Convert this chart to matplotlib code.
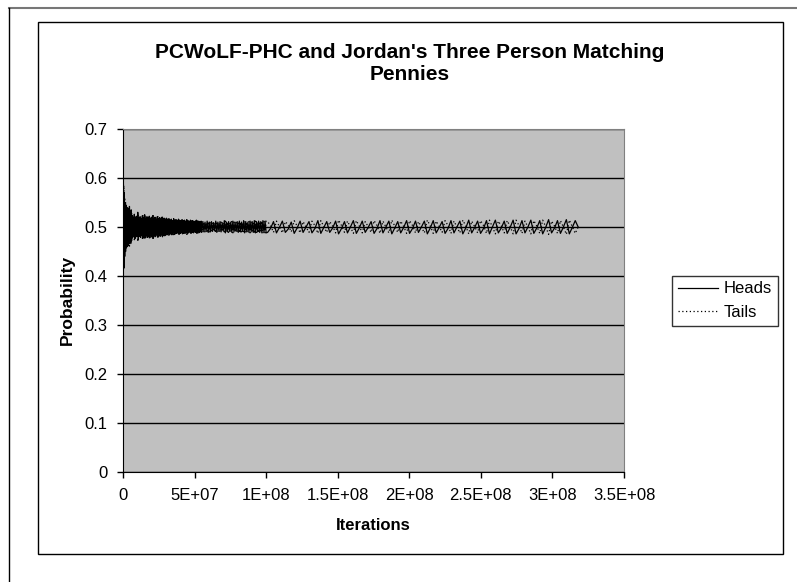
import numpy as np
import matplotlib
matplotlib.use("Agg")
import matplotlib.pyplot as plt
from matplotlib.lines import Line2D
from matplotlib.patches import Rectangle

plt.rcParams['font.family'] = ['Liberation Sans', 'DejaVu Sans']

# probability of Heads, in segments (iterations in millions)
seg1_range = (0, 6)
seg1 = [0.500, 0.586, 0.416, 0.570, 0.440, 0.550, 0.450, 0.545, 0.458, 0.540,
        0.460, 0.538, 0.462, 0.530, 0.468, 0.542, 0.466, 0.528, 0.470, 0.535, 0.472]

seg2_range = (6.3, 30)
seg2 = [0.524, 0.478, 0.520, 0.482, 0.526, 0.476, 0.518, 0.480, 0.522, 0.484,
        0.530, 0.474, 0.519, 0.481, 0.521, 0.479, 0.517, 0.483, 0.523, 0.477,
        0.520, 0.480, 0.525, 0.478, 0.518, 0.482, 0.521, 0.479, 0.519, 0.481,
        0.522, 0.478, 0.517, 0.483, 0.520, 0.480, 0.523, 0.477, 0.518, 0.482,
        0.520, 0.481, 0.516, 0.484, 0.521, 0.479, 0.517, 0.483, 0.519, 0.481,
        0.516, 0.484, 0.520, 0.480, 0.517, 0.483, 0.518, 0.482, 0.516, 0.484]

seg3_range = (30.4, 55)
seg3 = [0.518, 0.484, 0.515, 0.486, 0.517, 0.485, 0.514, 0.487, 0.516, 0.484,
        0.513, 0.488, 0.517, 0.485, 0.514, 0.486, 0.515, 0.487, 0.513, 0.488,
        0.516, 0.485, 0.514, 0.487, 0.512, 0.489, 0.515, 0.486, 0.513, 0.488,
        0.514, 0.487, 0.512, 0.489, 0.515, 0.486, 0.513, 0.488, 0.511, 0.490,
        0.514, 0.487, 0.512, 0.489, 0.513, 0.488, 0.511, 0.490, 0.512, 0.489,
        0.514, 0.487, 0.511, 0.490, 0.512, 0.489, 0.510, 0.491, 0.512, 0.489]

seg4_range = (55.8, 100)
seg4 = [0.511, 0.490, 0.510, 0.491, 0.512, 0.489, 0.510, 0.490, 0.511, 0.491,
        0.509, 0.492, 0.512, 0.489, 0.510, 0.491, 0.511, 0.490, 0.509, 0.492,
        0.513, 0.488, 0.510, 0.490, 0.511, 0.491, 0.510, 0.489, 0.512, 0.490,
        0.510, 0.491, 0.511, 0.489, 0.512, 0.490, 0.510, 0.491, 0.513, 0.488,
        0.511, 0.490, 0.510, 0.489, 0.512, 0.490, 0.511, 0.489, 0.513, 0.488,
        0.511, 0.490, 0.512, 0.489, 0.511, 0.488, 0.513, 0.489, 0.512, 0.488]

# later part: sawtooth cycles (low, rising, peak)
seg5_range = (101, 318)
seg5 = [0.489, 0.497, 0.511, 0.488, 0.499, 0.512, 0.489, 0.496, 0.510, 0.487,
        0.498, 0.512, 0.489, 0.500, 0.511, 0.488, 0.497, 0.513, 0.487, 0.499,
        0.511, 0.489, 0.498, 0.512, 0.486, 0.497, 0.511, 0.488, 0.500, 0.513,
        0.487, 0.498, 0.512, 0.489, 0.499, 0.511, 0.487, 0.497, 0.513, 0.488,
        0.500, 0.512, 0.486, 0.498, 0.511, 0.488, 0.499, 0.513, 0.487, 0.497,
        0.512, 0.489, 0.500, 0.512, 0.486, 0.498, 0.513, 0.488, 0.499, 0.511,
        0.487, 0.497, 0.513, 0.488, 0.500, 0.512, 0.486, 0.498, 0.514, 0.488,
        0.499, 0.512, 0.487, 0.497, 0.513, 0.486, 0.500, 0.514, 0.488, 0.498,
        0.512, 0.487, 0.499, 0.514, 0.486, 0.497, 0.513, 0.488, 0.500, 0.514,
        0.487, 0.498, 0.513, 0.486, 0.499, 0.515, 0.488, 0.498, 0.513, 0.487,
        0.500, 0.515, 0.486, 0.499, 0.513, 0.500]

segments = [(seg1_range, seg1), (seg2_range, seg2), (seg3_range, seg3),
            (seg4_range, seg4), (seg5_range, seg5)]

iters = np.concatenate([np.linspace(r[0], r[1], len(v)) for r, v in segments]) * 1e6
heads = np.concatenate([np.array(v) for r, v in segments])
tails = 1 - heads  # two actions, probabilities sum to one

y_ticks = [0, 0.1, 0.2, 0.3, 0.4, 0.5, 0.6, 0.7]
y_labels = ['0', '0.1', '0.2', '0.3', '0.4', '0.5', '0.6', '0.7']
x_ticks = [0, 5e7, 1e8, 1.5e8, 2e8, 2.5e8, 3e8, 3.5e8]
x_labels = ['0', '5E+07', '1E+08', '1.5E+08', '2E+08', '2.5E+08', '3E+08', '3.5E+08']

W, H = 797, 582
fig = plt.figure(figsize=(W / 100, H / 100), dpi=100)

# page-like frames
fig.add_artist(Line2D([9 / W, 1], [1 - 8 / H, 1 - 8 / H], color='#777777', lw=1.5))
fig.add_artist(Line2D([9 / W, 9 / W], [0, 1 - 8 / H], color='black', lw=1))
fig.add_artist(Rectangle((38 / W, 1 - 554 / H), (783 - 38) / W, (554 - 22) / H,
                         fill=False, ec='black', lw=1))

ax = fig.add_axes([123 / W, 1 - 472 / H, (624 - 123) / W, (472 - 129) / H])
ax.set_facecolor('#c0c0c0')
ax.plot(iters, heads, color='black', lw=0.9, label='Heads')
ax.plot(iters, tails, color='black', lw=0.9, linestyle=(0, (1, 2)), label='Tails')

ax.set_xlim(0, 3.5e8)
ax.set_ylim(0, 0.7)
ax.set_yticks(y_ticks)
ax.set_yticklabels(y_labels)
ax.set_xticks(x_ticks)
ax.set_xticklabels(x_labels)
ax.tick_params(direction='out', length=4.5, width=1, labelsize=12, color='black')
ax.tick_params(axis='y', pad=6.5)
ax.tick_params(axis='x', pad=7)
ax.grid(axis='y', color='black', lw=1)
ax.set_axisbelow(True)
for s in ['top', 'right']:
    ax.spines[s].set_color('#808080')
for s in ['left', 'bottom']:
    ax.spines[s].set_color('black')

fig.text(410 / W, 1 - 63.5 / H, "PCWoLF-PHC and Jordan's Three Person Matching\nPennies",
         ha='center', va='center', fontsize=15, fontweight='bold', linespacing=1.25)
fig.text(67 / W, 1 - 300 / H, 'Probability', rotation=90, ha='center', va='center',
         fontsize=12.5, fontweight='bold')
fig.text(373 / W, 1 - 526 / H, 'Iterations', ha='center', va='center',
         fontsize=12, fontweight='bold')

leg = fig.legend(loc='center left', bbox_to_anchor=(672 / W, 1 - 300.5 / H),
                 fontsize=12, frameon=True, fancybox=False, handlelength=2.4,
                 borderpad=0.35, labelspacing=0.5, handletextpad=0.36,
                 borderaxespad=0)
leg.get_frame().set_edgecolor('black')
leg.get_frame().set_linewidth(1)

fig.savefig('out.png', dpi=100)
